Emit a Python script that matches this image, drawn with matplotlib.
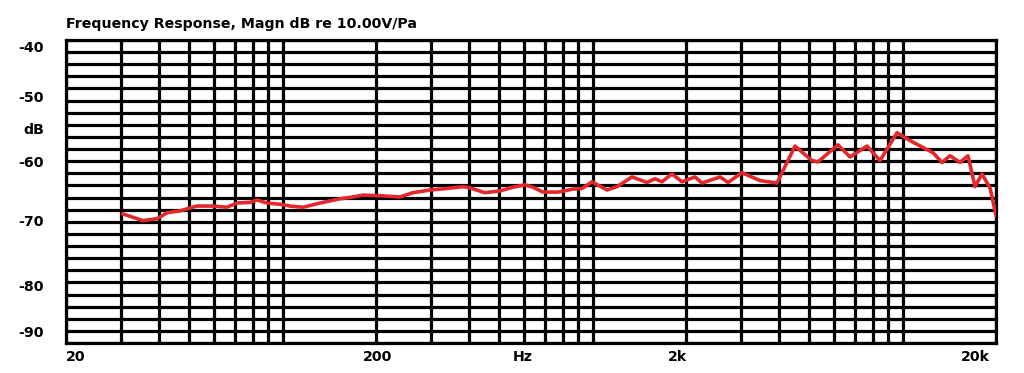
import numpy as np
import matplotlib
matplotlib.use("Agg")
import matplotlib.pyplot as plt
from matplotlib.ticker import LogLocator, MultipleLocator, NullFormatter
import matplotlib.transforms as mtransforms

# ---- data ----
freq_hz = [30.5, 35.4, 39.3, 42.4, 46.6, 52.9, 59.6, 66.1, 71.2, 78.5, 82.6, 89.0,
           98.0, 105.6, 116.3, 132, 153, 168.6, 181.6, 206, 239, 263, 299, 339,
           382, 402, 449, 502, 553, 605, 642, 691, 773, 864, 924, 995, 1112, 1198,
           1339, 1497, 1589, 1673, 1802, 1941, 2138, 2253, 2576, 2733, 3032, 3466,
           3932, 4494, 5100, 5332, 6184, 6762, 7674, 8450, 9586, 10558, 12526,
           13392, 14216, 15310, 16246, 17114, 18026, 19128, 20000]
magn_db = [-68.7, -69.8, -69.5, -68.5, -68.2, -67.4, -67.4, -67.6, -66.9, -66.8,
           -66.4, -66.9, -67.1, -67.4, -67.6, -66.9, -66.2, -65.9, -65.6, -65.7,
           -65.9, -65.2, -64.75, -64.5, -64.2, -64.4, -65.2, -64.9, -64.3, -63.9,
           -64.3, -65.1, -65.1, -64.6, -64.5, -63.4, -64.75, -64.2, -62.6, -63.5,
           -62.9, -63.4, -62.1, -63.4, -62.6, -63.6, -62.6, -63.5, -61.9, -63.2,
           -63.6, -57.5, -59.9, -60.1, -57.3, -59.3, -57.5, -59.9, -55.3, -56.6,
           -58.6, -60.2, -59.1, -60.2, -59.1, -64.2, -62.1, -64.4, -68.9]

x_labels = ["20", "200", "Hz", "2k", "20k"]
y_labels = ["-40", "-50", "dB", "-60", "-70", "-80", "-90"]
title_text = "Frequency Response, Magn dB re 10.00V/Pa"

# ---- layout / style ----
x_label_pos = [20, 203, 596, 1884, 17100]
x_label_ha = ["left", "center", "center", "center", "center"]
y_label_pos = [-41.3, -49.6, -54.85, -60.3, -70.0, -80.8, -88.3]

W, H, DPI = 1024, 373, 100
fig = plt.figure(figsize=(W / DPI, H / DPI), dpi=DPI)
left, right, top, bottom = 66 / W, 996 / W, 1 - 40 / H, 1 - 343 / H
ax = fig.add_axes([left, bottom, right - left, top - bottom])

ax.set_xscale("log")
ax.set_xlim(20, 20000)
ax.set_ylim(-90, -40)

ax.xaxis.set_major_locator(LogLocator(base=10, subs=(1.0,)))
ax.xaxis.set_minor_locator(LogLocator(base=10, subs=np.arange(2, 10)))
ax.xaxis.set_major_formatter(NullFormatter())
ax.xaxis.set_minor_formatter(NullFormatter())
ax.yaxis.set_major_locator(MultipleLocator(2))
ax.yaxis.set_major_formatter(NullFormatter())
ax.tick_params(which="both", length=0)

gw = 2.3
ax.grid(True, which="both", axis="x", color="black", linewidth=gw)
ax.grid(True, which="major", axis="y", color="black", linewidth=gw)
for s in ax.spines.values():
    s.set_linewidth(gw)
    s.set_color("black")
ax.set_axisbelow(True)

ax.plot(freq_hz, magn_db, color="#e3282b", linewidth=2.6, zorder=5,
        solid_joinstyle="round")

fkw = dict(family="DejaVu Sans", fontweight="bold", color="black")
fs = 10.2

ax.text(0.0, 1.0 + 12 / (343 - 40), title_text, transform=ax.transAxes,
        ha="left", va="baseline", fontsize=fs, **fkw)

tx = mtransforms.blended_transform_factory(ax.transData, ax.transAxes)
for lab, xp, ha in zip(x_labels, x_label_pos, x_label_ha):
    ax.text(xp, -14 / (343 - 40), lab, transform=tx, ha=ha, va="center",
            fontsize=fs, **fkw)

ty = mtransforms.blended_transform_factory(ax.transAxes, ax.transData)
for lab, yp in zip(y_labels, y_label_pos):
    ax.text(-22 / (996 - 66), yp, lab, transform=ty, ha="right", va="center",
            fontsize=fs, **fkw)

fig.savefig("out.png", dpi=DPI, facecolor="white")
